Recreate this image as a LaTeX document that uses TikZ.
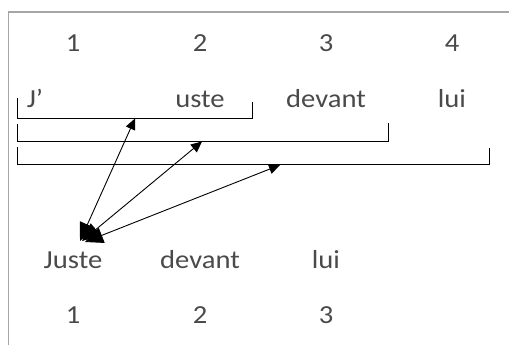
\documentclass[tikz,border=0pt]{standalone}
\usepackage{fontspec}
\setmainfont{Carlito}[FakeStretch=1.1]
\usetikzlibrary{arrows.meta}
\definecolor{txtgray}{HTML}{4A4A4A}
\definecolor{framegray}{HTML}{A6A6A6}
\begin{document}
\begin{tikzpicture}[x=1pt,y=-1pt,
  lbl/.style={anchor=base,inner sep=0pt,text=txtgray,font=\fontsize{26}{30}\selectfont},
  frameline/.style={draw=framegray,line width=1.8pt},
  brk/.style={draw=black,line width=0.9pt},
  link/.style={draw=black,line width=0.9pt,
    {Triangle[length=18pt,width=16pt]}-{Triangle[length=11pt,width=10pt]}}]
\useasboundingbox (0,0) rectangle (509,345);
% frame fragment
\draw[frameline] (8.5,345) -- (8.5,12) -- (509,12);
% top numbers
\node[lbl] (t1) at (73,52) {1};
\node[lbl] (t2) at (200,52) {2};
\node[lbl] (t3) at (326,52) {3};
\node[lbl] (t4) at (452,52) {4};
% words
\node[lbl] (wj) at (35,107) {J’};
\node[lbl] (wu) at (200,107) {uste};
\node[lbl] (wd) at (326,107) {devant};
\node[lbl] (wl) at (452,107) {lui};
% brackets
\draw[brk] (17,98) -- (17,118) -- (252,118) -- (252,102);
\draw[brk] (17,124) -- (17,141) -- (388,141) -- (388,123);
\draw[brk] (17,147) -- (17,164.5) -- (489,164.5) -- (489,148);
\coordinate (b1) at (135,118.5);
\coordinate (b2) at (202,141.5);
\coordinate (b3) at (280,165);
% bottom words
\node[lbl] (j) at (73,268) {Juste};
\node[lbl] (d) at (200,268) {devant};
\node[lbl] (l) at (326,268) {lui};
\node[lbl] (n1) at (73,323) {1};
\node[lbl] (n2) at (200,323) {2};
\node[lbl] (n3) at (326,323) {3};
% arrow ends near Juste
\coordinate (e1) at (80,241);
\coordinate (e2) at (82,241);
\coordinate (e3) at (85,242);
\draw[link] (e1) -- (b1);
\draw[link] (e2) -- (b2);
\draw[link] (e3) -- (b3);
\end{tikzpicture}
\end{document}
